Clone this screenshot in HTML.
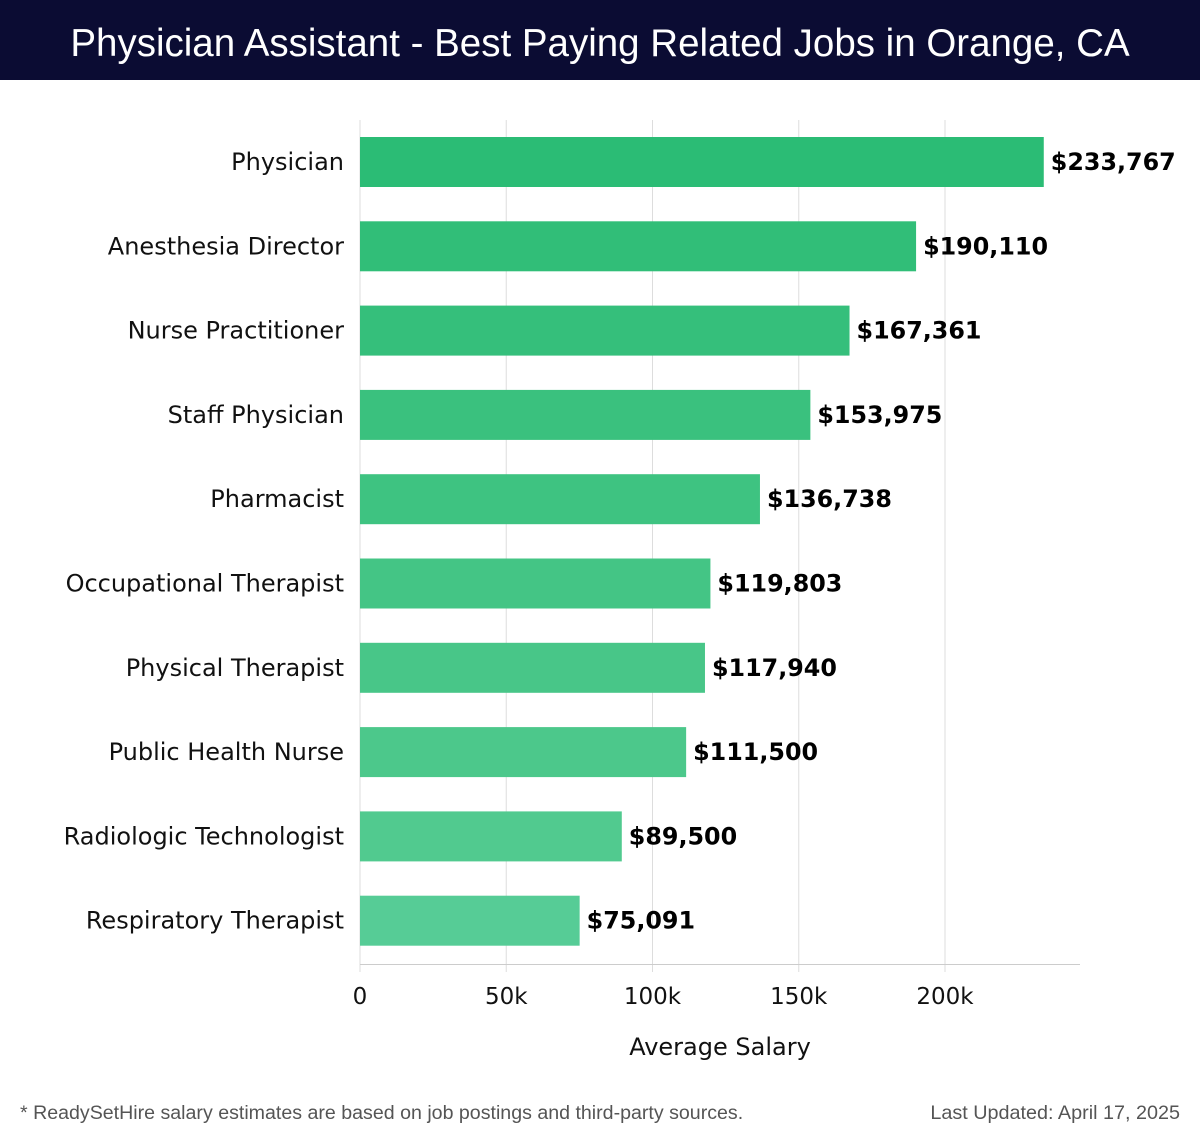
<!DOCTYPE html>
<html><head><meta charset="utf-8"><style>
body{margin:0;width:1200px;height:1140px;background:#fff;font-family:"DejaVu Sans","Liberation Sans",sans-serif;overflow:hidden}
#hdr{position:absolute;left:0;top:0;width:1200px;height:80px;background:#0b0c33;color:#fff;font-size:38.5px;text-align:center;line-height:88px;font-family:"Liberation Sans",sans-serif}
svg{position:absolute;left:0;top:0}
</style></head><body>
<div id="hdr">Physician Assistant - Best Paying Related Jobs in Orange, CA</div>
<svg id="c" width="1200" height="1140"></svg>
<script>
const categories=["Physician","Anesthesia Director","Nurse Practitioner","Staff Physician","Pharmacist","Occupational Therapist","Physical Therapist","Public Health Nurse","Radiologic Technologist","Respiratory Therapist"];
const salaries=[233767,190110,167361,153975,136738,119803,117940,111500,89500,75091];
const ticks=[0,50000,100000,150000,200000];
const tickLabels=["0","50k","100k","150k","200k"];
const colors=["#2bbc75","#31be78","#35bf7b","#3ac17e","#3ec381","#44c585","#48c688","#4cc88b","#51ca8f","#56cc96"];
const svg=document.getElementById('c');const NS="http://www.w3.org/2000/svg";
const x=v=>360+v*585/200000;
const y=i=>162+i*84.3;
function el(t,a,txt){const e=document.createElementNS(NS,t);for(const k in a)e.setAttribute(k,a[k]);if(txt!==undefined)e.textContent=txt;svg.appendChild(e);return e;}
ticks.forEach((t,i)=>{
 const g=el('line',{x1:x(t),x2:x(t),y1:120,y2:972,stroke:'#dddddd','stroke-width':1});
 
 
 const l=el('text',{x:x(t),y:1004,'text-anchor':'middle','font-size':23,fill:'#111'},tickLabels[i]);
 
 
});
const ax=el('line',{x1:360,x2:1080,y1:964.5,y2:964.5,stroke:'#ccc','stroke-width':1});


categories.forEach((c,i)=>{
 const b=el('rect',{x:360,y:y(i)-25,width:x(salaries[i])-360,height:50,fill:colors[i]});
 
 
 const l=el('text',{x:344,y:y(i)+8,'text-anchor':'end','font-size':24,fill:'#111'},c);
 
 
 const v=el('text',{x:x(salaries[i])+7,y:y(i)+8,'font-size':23.8,'font-weight':'bold',fill:'#000'},'$'+salaries[i].toLocaleString('en-US'));
 
 
});
const at=el('text',{x:720,y:1055,'text-anchor':'middle','font-size':24,fill:'#111'},'Average Salary');


const f1=el('text',{x:20,y:1119,'font-size':19.6,fill:'#555','font-family':'Liberation Sans, sans-serif'},'* ReadySetHire salary estimates are based on job postings and third-party sources.');


const f2=el('text',{x:1180,y:1119,'text-anchor':'end','font-size':19.8,fill:'#555','font-family':'Liberation Sans, sans-serif'},'Last Updated: April 17, 2025');


</script>
</body></html>
